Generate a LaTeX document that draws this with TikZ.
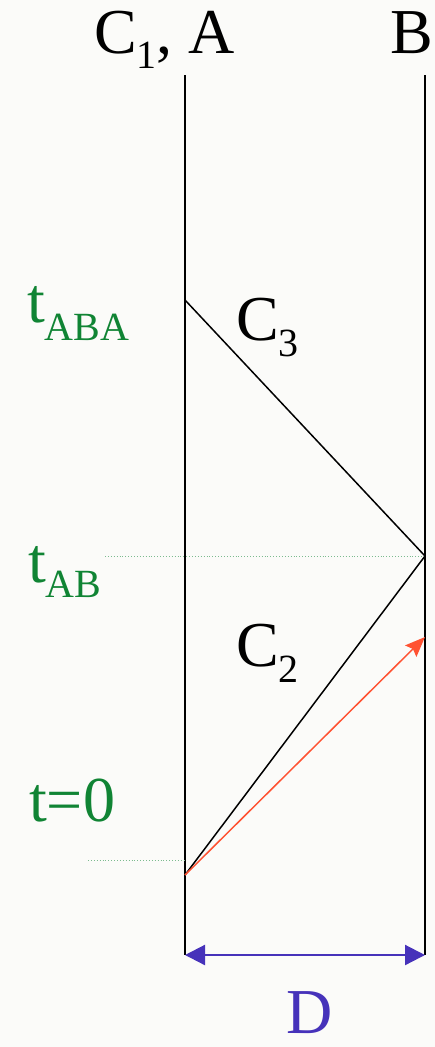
\documentclass[tikz,border=0pt]{standalone}
\usepackage{fontspec}
\newfontfamily\diagfont{Liberation Serif}
\usetikzlibrary{arrows.meta}
\definecolor{pagebg}{RGB}{251,251,249}
\definecolor{timegreen}{RGB}{16,132,52}
\definecolor{signalred}{RGB}{255,82,50}
\definecolor{distblue}{RGB}{70,50,186}
\newcommand{\lowsub}[2][16pt]{\raisebox{-#1}{\fontsize{40}{40}\selectfont #2}}
\tikzset{
  worldline/.style={line width=1.8pt, black},
  signal/.style   ={line width=1.5pt, black},
  fastsig/.style  ={line width=1.5pt, signalred, -{Stealth[length=20pt, width=16pt, inset=3pt]}},
  timemark/.style ={line width=0.9pt, timegreen!55, dotted},
  distarrow/.style={line width=2.2pt, distblue, {Triangle[length=20pt, width=20pt]}-{Triangle[length=20pt, width=20pt]}},
  biglabel/.style ={anchor=base west, inner sep=0pt, font=\diagfont\fontsize{64}{70}\selectfont},
  timelabel/.style={biglabel, text=timegreen},
}

\begin{document}
\begin{tikzpicture}[x=1pt, y=-1pt]
  \fill[pagebg] (0,0) rectangle (435,1047);
  \useasboundingbox (0,0) rectangle (435,1047);
  % the two world lines
  \coordinate (Atop) at (185,75);  \coordinate (Abot) at (185,955);
  \coordinate (Btop) at (425,75);  \coordinate (Bbot) at (425,955);
  \draw[worldline] (Atop) -- (Abot);
  \draw[worldline] (Btop) -- (Bbot);
  % events on them
  \coordinate (start) at (185,875);
  \coordinate (atB)   at (425,556);
  \coordinate (back)  at (185,300);
  \coordinate (hitB)  at (425,637);
  \coordinate (tABend) at (105,556);
  \coordinate (tzend)  at (88,860);
  \coordinate (tzA)    at (185,860);
  \draw[timemark] (tABend) -- (atB);
  \draw[timemark] (tzend) -- (tzA);
  \draw[signal] (start) -- (atB) -- (back);
  \draw[fastsig] (start) -- (hitB);
  \draw[distarrow] (Abot) -- (Bbot);
  % labels
  \node[biglabel] (lblA) at (94,53) {C\lowsub[15pt]{1}, A};
  \node[biglabel, anchor=base east] (lblB) at (433,53) {B};
  \node[biglabel] (lblC3) at (236,340) {C\lowsub{3}};
  \node[biglabel] (lblC2) at (236,666) {C\lowsub{2}};
  \node[timelabel] (lblABA) at (27,322) {t\lowsub[18pt]{ABA}};
  \node[timelabel] (lblAB) at (28,582) {t\lowsub[15pt]{AB}};
  \node[timelabel] (lblzero) at (29,821) {t=0};
  \node[biglabel, text=distblue] (lblD) at (286,1033) {D};
\end{tikzpicture}
\end{document}
